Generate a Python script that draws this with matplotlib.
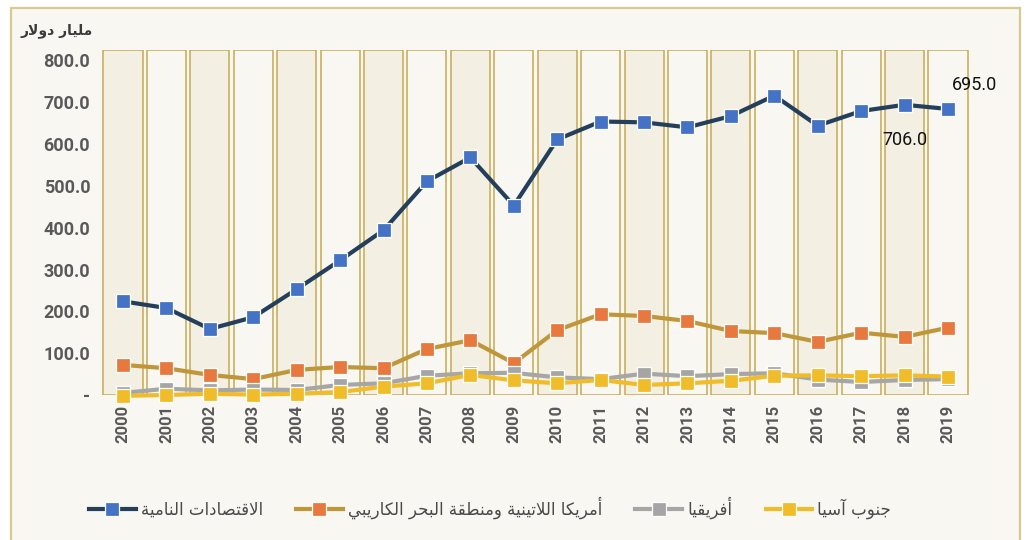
import matplotlib
matplotlib.use("Agg")
import matplotlib.pyplot as plt
from matplotlib.patches import Rectangle
from matplotlib.lines import Line2D

# ---------------- data ----------------
years = list(range(2000, 2020))
developing = [224, 208, 158, 186, 253, 322, 394, 511, 568, 453,
              611, 654, 652, 640, 667, 716, 644, 679, 694, 684]
latam = [72, 64, 48, 38, 60, 67, 64, 110, 131, 76,
         155, 193, 189, 177, 153, 148, 127, 149, 139, 161]
africa = [5, 15, 11, 13, 12, 24, 28, 46, 52, 53,
          42, 38, 51, 45, 50, 52, 37, 31, 36, 38]
south_asia = [-2, 0, 3, 1, 3, 7, 20, 28, 48, 35,
              28, 36, 24, 28, 34, 46, 47, 45, 47, 44]
series_names = ["الاقتصادات النامية",
                "أمريكا اللاتينية ومنطقة البحر الكاريبي",
                "أفريقيا",
                "جنوب آسيا"]
y_title = "مليار دولار"
y_ticks = [0, 100, 200, 300, 400, 500, 600, 700, 800]
y_tick_labels = ["-", "100.0", "200.0", "300.0", "400.0", "500.0",
                 "600.0", "700.0", "800.0"]
point_labels = {2019: "695.0", 2018: "706.0"}

# ---------------- minimal Arabic shaping ----------------
FORMS = {  # isolated, final, initial, medial
    'ا': (0xFE8D, 0xFE8E, None, None),
    'أ': (0xFE83, 0xFE84, None, None),
    'آ': (0xFE81, 0xFE82, None, None),
    'ب': (0xFE8F, 0xFE90, 0xFE91, 0xFE92),
    'ة': (0xFE93, 0xFE94, None, None),
    'ت': (0xFE95, 0xFE96, 0xFE97, 0xFE98),
    'ج': (0xFE9D, 0xFE9E, 0xFE9F, 0xFEA0),
    'ح': (0xFEA1, 0xFEA2, 0xFEA3, 0xFEA4),
    'د': (0xFEA9, 0xFEAA, None, None),
    'ر': (0xFEAD, 0xFEAE, None, None),
    'س': (0xFEB1, 0xFEB2, 0xFEB3, 0xFEB4),
    'ص': (0xFEB9, 0xFEBA, 0xFEBB, 0xFEBC),
    'ط': (0xFEC1, 0xFEC2, 0xFEC3, 0xFEC4),
    'ف': (0xFED1, 0xFED2, 0xFED3, 0xFED4),
    'ق': (0xFED5, 0xFED6, 0xFED7, 0xFED8),
    'ك': (0xFED9, 0xFEDA, 0xFEDB, 0xFEDC),
    'ل': (0xFEDD, 0xFEDE, 0xFEDF, 0xFEE0),
    'م': (0xFEE1, 0xFEE2, 0xFEE3, 0xFEE4),
    'ن': (0xFEE5, 0xFEE6, 0xFEE7, 0xFEE8),
    'و': (0xFEED, 0xFEEE, None, None),
    'ي': (0xFEF1, 0xFEF2, 0xFEF3, 0xFEF4),
}
LAMALEF = {'ا': (0xFEFB, 0xFEFC), 'أ': (0xFEF7, 0xFEF8), 'آ': (0xFEF5, 0xFEF6)}


def dual(c):
    return c in FORMS and FORMS[c][2] is not None


def shape(text):
    chars = list(text)
    out = []
    i = 0
    while i < len(chars):
        c = chars[i]
        if c not in FORMS:
            out.append(c)
            i += 1
            continue
        prev_join = i > 0 and dual(chars[i - 1])
        if c == 'ل' and i + 1 < len(chars) and chars[i + 1] in LAMALEF:
            iso, fin = LAMALEF[chars[i + 1]]
            out.append(chr(fin if prev_join else iso))
            i += 2
            continue
        next_join = dual(c) and i + 1 < len(chars) and chars[i + 1] in FORMS
        iso, fin, ini, med = FORMS[c]
        if prev_join and next_join:
            f = med
        elif prev_join:
            f = fin
        elif next_join:
            f = ini
        else:
            f = iso
        out.append(chr(f))
        i += 1
    return "".join(reversed(out))


# ---------------- figure ----------------
W, H = 1029, 540
fig = plt.figure(figsize=(W / 100, H / 100), dpi=100)
fig.patch.set_facecolor("white")
fig.patches.append(Rectangle((11 / W, -0.05), (1020 - 11) / W, 1.05 - 8 / H,
                             transform=fig.transFigure, facecolor="#f8f7f2",
                             edgecolor="#d9c88f", linewidth=1.6, zorder=-5))

band_top = 825
ax = fig.add_axes([101.3 / W, 1 - 395 / H, (969.7 - 101.3) / W, (395 - 50) / H])
ax.set_zorder(2)
ax.set_facecolor("none")
ax.set_xlim(years[0] - 0.5, years[-1] + 0.5)
ax.set_ylim(0, band_top)

fills = ["#f3efe3" if i % 2 == 0 else "#f8f7f2" for i in range(len(years))]
ax.bar(years, [band_top] * len(years), width=0.9, color=fills,
       edgecolor="#c7a94f", linewidth=1.1, zorder=1)

styles = [
    (developing, "#243f5c", "#4472c4"),
    (latam, "#c0963a", "#e8793e"),
    (africa, "#a6a6a6", "#a5a5a5"),
    (south_asia, "#f0bc2a", "#f0bc2a"),
]
handles = []
for k, (vals, lc, mc) in enumerate(styles):
    z = 3 + k
    ax.plot(years, vals, color=lc, linewidth=3.0, zorder=z, clip_on=False,
            solid_capstyle="round")
    ax.plot(years, vals, linestyle="none", marker="s", markersize=9.5,
            markerfacecolor=mc, markeredgecolor="white", markeredgewidth=0.9,
            zorder=z + 0.5, clip_on=False)
    handles.append(Line2D([], [], color=lc, linewidth=3.0, marker="s",
                          markersize=9.5, markerfacecolor=mc,
                          markeredgecolor="white", markeredgewidth=0.9))

# data labels
ax.annotate(point_labels[2019], (2019, developing[years.index(2019)]),
            xytext=(19, 17), textcoords="offset points", ha="center",
            va="center", fontsize=13, family="Roboto", color="#111111")
ax.annotate(point_labels[2018], (2018, developing[years.index(2018)]),
            xytext=(0, -25), textcoords="offset points", ha="center",
            va="center", fontsize=13, family="Roboto", color="#111111")

# axes styling
for s in ax.spines.values():
    s.set_visible(False)
ax.set_yticks(y_ticks)
ax.set_yticklabels(y_tick_labels)
ax.set_xticks(years)
ax.set_xticklabels([str(y) for y in years], rotation=90)
ax.tick_params(axis="both", length=0, colors="#595959")
ax.tick_params(axis="y", pad=8)
ax.tick_params(axis="x", pad=7)
for lab in ax.get_yticklabels():
    lab.set_fontfamily("Roboto")
    lab.set_fontweight("bold")
    lab.set_fontsize(13)
for lab in ax.get_xticklabels():
    lab.set_fontfamily("Roboto")
    lab.set_fontweight("bold")
    lab.set_fontsize(12)

fig.text(93 / W, 1 - 31 / H, shape(y_title), ha="right", va="center",
         fontsize=10, fontweight="bold", family="DejaVu Sans", color="#3a3a3a")

leg = fig.legend(handles, [shape(n) for n in series_names], loc="center",
                 bbox_to_anchor=(490 / W, 1 - 508 / H), ncol=4, frameon=False,
                 handlelength=2.8, columnspacing=2.0, handletextpad=0.3,
                 prop={"family": "DejaVu Sans", "size": 12})
for t in leg.get_texts():
    t.set_color("#4a4a4a")

fig.savefig("out.png", dpi=100, facecolor=fig.get_facecolor())
